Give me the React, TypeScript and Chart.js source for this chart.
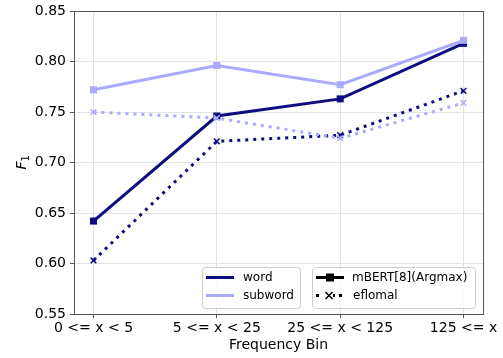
import React, { useEffect, useRef } from "react";
import { Chart, registerables } from "chart.js";

Chart.register(...registerables);

const categories = ["0 <= x < 5", "5 <= x < 25", "25 <= x < 125", "125 <= x"];
const wordMbert = [0.642, 0.746, 0.763, 0.818];
const subwordMbert = [0.772, 0.796, 0.777, 0.821];
const wordEflomal = [0.603, 0.721, 0.727, 0.771];
const subwordEflomal = [0.750, 0.744, 0.724, 0.759];
const yTicks = [0.55, 0.6, 0.65, 0.7, 0.75, 0.8, 0.85];

const DARK = "#0d0d80";
const LIGHT = "#aaaaff";
const FONT = "DejaVu Sans";

const toPts = (arr: number[]) => arr.map((v, i) => ({ x: i, y: v }));

const framePlugin = {
  id: "frame",
  afterDraw(chart: any) {
    const { ctx, chartArea: a } = chart;
    ctx.save();
    ctx.strokeStyle = "#555555";
    ctx.lineWidth = 1;
    ctx.strokeRect(Math.round(a.left) + 0.5, Math.round(a.top) + 0.5, Math.round(a.right - a.left), Math.round(a.bottom - a.top));

    // y title F_1
    ctx.fillStyle = "#000";
    ctx.translate(21, (a.top + a.bottom) / 2);
    ctx.rotate(-Math.PI / 2);
    ctx.textBaseline = "alphabetic";
    ctx.font = `italic 14px ${FONT}`;
    const fw = ctx.measureText("F").width;
    const sw = 6;
    const tot = fw + sw;
    ctx.fillText("F", -tot / 2, 5);
    ctx.font = `10px ${FONT}`;
    ctx.fillText("1", -tot / 2 + fw, 8);
    ctx.restore();

    // legend
    ctx.save();
    const drawBox = (x: number, y: number, w: number, h: number) => {
      const r = 3;
      ctx.beginPath();
      ctx.moveTo(x + r, y);
      ctx.lineTo(x + w - r, y);
      ctx.quadraticCurveTo(x + w, y, x + w, y + r);
      ctx.lineTo(x + w, y + h - r);
      ctx.quadraticCurveTo(x + w, y + h, x + w - r, y + h);
      ctx.lineTo(x + r, y + h);
      ctx.quadraticCurveTo(x, y + h, x, y + h - r);
      ctx.lineTo(x, y + r);
      ctx.quadraticCurveTo(x, y, x + r, y);
      ctx.closePath();
      ctx.fillStyle = "rgba(255,255,255,0.85)";
      ctx.fill();
      ctx.strokeStyle = "#cccccc";
      ctx.lineWidth = 1;
      ctx.stroke();
    };
    drawBox(202.5, 267.5, 98, 41);
    drawBox(312.5, 267.5, 163, 41);

    ctx.font = `12px ${FONT}`;
    ctx.textBaseline = "middle";
    ctx.fillStyle = "#000";

    const y1 = 277.5;
    const y2 = 295.5;
    ctx.lineCap = "butt";
    ctx.lineWidth = 3;
    ctx.strokeStyle = DARK;
    ctx.beginPath(); ctx.moveTo(206, y1); ctx.lineTo(234, y1); ctx.stroke();
    ctx.strokeStyle = LIGHT;
    ctx.beginPath(); ctx.moveTo(206, y2); ctx.lineTo(234, y2); ctx.stroke();
    ctx.fillText("word", 243, y1);
    ctx.fillText("subword", 243, y2);

    ctx.strokeStyle = "#000";
    ctx.beginPath(); ctx.moveTo(316, y1); ctx.lineTo(344, y1); ctx.stroke();
    ctx.fillStyle = "#000";
    ctx.fillRect(326, y1 - 4, 8, 8);
    // dotted sample: dots at ends, x marker in middle
    ctx.fillRect(316, y2 - 1.5, 3, 3);
    ctx.fillRect(339, y2 - 1.5, 3, 3);
    ctx.fillRect(333, y2 - 1.5, 2, 3);
    ctx.lineWidth = 1.5;
    ctx.beginPath();
    ctx.moveTo(325.5, y2 - 3.5); ctx.lineTo(332.5, y2 + 3.5);
    ctx.moveTo(332.5, y2 - 3.5); ctx.lineTo(325.5, y2 + 3.5);
    ctx.stroke();
    ctx.fillText("mBERT[8](Argmax)", 352, y1);
    ctx.fillText("eflomal", 353, y2);
    ctx.restore();
  },
};

export default function App() {
  const ref = useRef<HTMLCanvasElement | null>(null);
  useEffect(() => {
    document.body.style.margin = "0";
    const ctx = ref.current!.getContext("2d")!;
    const common = { fill: false, tension: 0, clip: false as any };
    const chart = new Chart(ctx, {
      type: "line",
      data: {
        datasets: [
          {
            ...common,
            label: "subword eflomal",
            data: toPts(subwordEflomal),
            borderColor: LIGHT,
            backgroundColor: LIGHT,
            borderWidth: 3,
            borderDash: [3, 5],
            pointStyle: "crossRot",
            pointRadius: 4,
            pointBorderWidth: 1.5,
          },
          {
            ...common,
            label: "word eflomal",
            data: toPts(wordEflomal),
            borderColor: DARK,
            backgroundColor: DARK,
            borderWidth: 3,
            borderDash: [3, 5],
            pointStyle: "crossRot",
            pointRadius: 4,
            pointBorderWidth: 1.5,
          },
          {
            ...common,
            label: "subword mBERT",
            data: toPts(subwordMbert),
            borderColor: LIGHT,
            backgroundColor: LIGHT,
            borderWidth: 3,
            pointStyle: "rect",
            pointRadius: 5,
            pointBorderWidth: 0,
          },
          {
            ...common,
            label: "word mBERT",
            data: toPts(wordMbert),
            borderColor: DARK,
            backgroundColor: DARK,
            borderWidth: 3,
            pointStyle: "rect",
            pointRadius: 5,
            pointBorderWidth: 0,
          },
        ],
      },
      options: {
        animation: false,
        responsive: false,
        devicePixelRatio: 1,
        layout: { padding: { top: 11, right: 20, left: 0, bottom: 0 } },
        plugins: { legend: { display: false }, tooltip: { enabled: false } },
        scales: {
          x: {
            type: "linear",
            min: -0.158,
            max: 3.158,
            afterBuildTicks: (s: any) => {
              s.ticks = categories.map((_, i) => ({ value: i }));
            },
            afterFit: (s: any) => {
              s.height = 44;
              s.paddingLeft = 0;
              s.paddingRight = 0;
            },
            ticks: {
              callback: (v: any) => categories[Number(v)] ?? "",
              color: "#000",
              font: { family: FONT, size: 14 },
              padding: 2,
              maxRotation: 0,
              autoSkip: false,
            },
            grid: { color: "#e3e3e3", tickColor: "#555", tickLength: 4, lineWidth: 1 },
            border: { color: "#555" },
            title: {
              display: true,
              text: "Frequency Bin",
              color: "#000",
              font: { family: FONT, size: 14 },
              padding: { top: 0, bottom: 4 },
            },
          },
          y: {
            min: 0.55,
            max: 0.85,
            afterBuildTicks: (s: any) => {
              s.ticks = yTicks.map((v) => ({ value: v }));
            },
            afterFit: (s: any) => {
              s.width = 74;
              s.paddingTop = 0;
              s.paddingBottom = 0;
            },
            ticks: {
              callback: (v: any) => Number(v).toFixed(2),
              color: "#000",
              font: { family: FONT, size: 14 },
              padding: 4,
            },
            grid: { color: "#e3e3e3", tickColor: "#555", tickLength: 4, lineWidth: 1 },
            border: { color: "#555" },
          },
        },
      },
      plugins: [framePlugin],
    });
    return () => chart.destroy();
  }, []);
  return (
    <div style={{ position: "absolute", left: 0, top: 0, width: 503, height: 358, overflow: "hidden" }}>
      <canvas ref={ref} width={503} height={358} style={{ width: 503, height: 358, display: "block" }} />
    </div>
  );
}
